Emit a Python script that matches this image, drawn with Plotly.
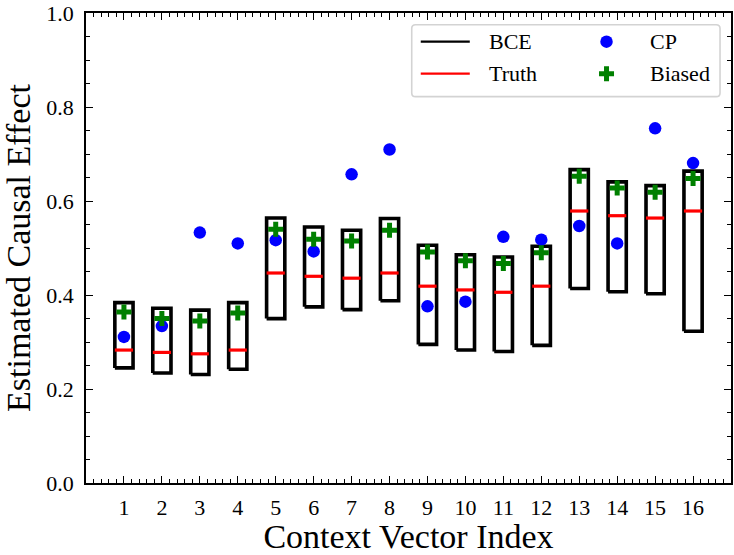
import plotly.graph_objects as go

# ---------------- data ----------------
idx = list(range(1, 17))
bce_low = [0.245, 0.234, 0.231, 0.242, 0.350, 0.375, 0.369, 0.388,
           0.295, 0.283, 0.280, 0.293, 0.414, 0.407, 0.403, 0.323]
bce_high = [0.384, 0.372, 0.368, 0.384, 0.564, 0.545, 0.538, 0.563,
            0.506, 0.486, 0.481, 0.504, 0.667, 0.641, 0.633, 0.664]
truth = [0.283, 0.278, 0.275, 0.283, 0.447, 0.440, 0.436, 0.447,
         0.419, 0.411, 0.406, 0.419, 0.579, 0.569, 0.564, 0.579]
cp = [0.311, 0.334, 0.533, 0.510, 0.517, 0.493, 0.657, 0.710,
      0.376, 0.386, 0.524, 0.518, 0.547, 0.510, 0.755, 0.681]
biased = [0.364, 0.350, 0.345, 0.362, 0.540, 0.519, 0.515, 0.538,
          0.492, 0.473, 0.467, 0.490, 0.653, 0.628, 0.619, 0.648]
tick_labels = [str(i) for i in idx]
y_ticks = [0.0, 0.2, 0.4, 0.6, 0.8, 1.0]
y_tick_labels = ["0.0", "0.2", "0.4", "0.6", "0.8", "1.0"]

FONT = "Liberation Serif, Times New Roman, serif"
HW = 0.24  # half width of the boxes (x units)

fig = go.Figure()

# BCE boxes
bx, by = [], []
for i, lo, hi in zip(idx, bce_low, bce_high):
    bx += [i - HW, i + HW, i + HW, i - HW, i - HW, None]
    by += [lo, lo, hi, hi, lo, None]
fig.add_trace(go.Scatter(x=bx, y=by, mode="lines", name="BCE",
                         line=dict(color="black", width=3.6),
                         showlegend=False, hoverinfo="skip"))

# Truth lines
tx, ty = [], []
for i, t in zip(idx, truth):
    tx += [i - HW, i + HW, None]
    ty += [t, t, None]
fig.add_trace(go.Scatter(x=tx, y=ty, mode="lines", name="Truth",
                         line=dict(color="red", width=3.2),
                         showlegend=False))

fig.add_trace(go.Scatter(x=idx, y=cp, mode="markers", name="CP",
                         marker=dict(symbol="circle", size=12.5, color="blue"),
                         showlegend=False))
fig.add_trace(go.Scatter(x=idx, y=biased, mode="markers", name="Biased",
                         marker=dict(symbol="cross", size=12.5, color="green"),
                         showlegend=False))

# ---------------- manual legend (paper coords over overlay axis) ----------------
lx0, lx1, ly0, ly1 = 0.505, 0.983, 0.822, 0.975
rx, ry = 0.006, 0.008
path = (f"M {lx0+rx},{ly0} L {lx1-rx},{ly0} Q {lx1},{ly0} {lx1},{ly0+ry} "
        f"L {lx1},{ly1-ry} Q {lx1},{ly1} {lx1-rx},{ly1} "
        f"L {lx0+rx},{ly1} Q {lx0},{ly1} {lx0},{ly1-ry} "
        f"L {lx0},{ly0+ry} Q {lx0},{ly0} {lx0+rx},{ly0} Z")
fig.add_shape(type="path", path=path, xref="paper", yref="paper",
              line=dict(color="#d3d3d3", width=1.6), fillcolor="white", layer="below")
row1, row2 = 0.939, 0.871
fig.add_shape(type="line", xref="paper", yref="paper", x0=0.519, x1=0.595, y0=row1, y1=row1,
              line=dict(color="black", width=2.2))
fig.add_shape(type="line", xref="paper", yref="paper", x0=0.519, x1=0.595, y0=row2, y1=row2,
              line=dict(color="red", width=2.2))
fig.add_trace(go.Scatter(x=[0.807], y=[row1], mode="markers", xaxis="x2", yaxis="y2",
                         marker=dict(symbol="circle", size=12.5, color="blue"),
                         showlegend=False, hoverinfo="skip"))
fig.add_trace(go.Scatter(x=[0.807], y=[row2], mode="markers", xaxis="x2", yaxis="y2",
                         marker=dict(symbol="cross", size=12.5, color="green"),
                         showlegend=False, hoverinfo="skip"))
for txt, x, y in [("BCE", 0.621, row1), ("Truth", 0.621, row2),
                  ("CP", 0.872, row1), ("Biased", 0.872, row2)]:
    fig.add_annotation(text=txt, x=x, y=y, xref="paper", yref="paper",
                       xanchor="left", yanchor="middle", showarrow=False,
                       font=dict(family=FONT, size=22, color="black"))

axis_common = dict(showline=True, linecolor="black", linewidth=1.5, mirror="allticks",
                   ticks="inside", ticklen=7, tickwidth=1.2, tickcolor="black",
                   showgrid=False, zeroline=False, ticklabeloverflow="allow",
                   tickfont=dict(family=FONT, size=22, color="black"))

fig.update_layout(
    width=734, height=555,
    margin=dict(l=86, r=1, t=10, b=72),
    paper_bgcolor="white", plot_bgcolor="white",
    showlegend=False,
    xaxis=dict(range=[0, 17], tickmode="array", tickvals=idx, ticktext=tick_labels,
               minor=dict(ticks="inside", ticklen=4, tickwidth=1, tickcolor="black",
                          dtick=0.2, tick0=0),
               title=dict(text="Context Vector Index", standoff=10,
                          font=dict(family=FONT, size=34, color="black")),
               ticklabelstandoff=4,
               **axis_common),
    yaxis=dict(range=[0, 1.0005], tickmode="array", tickvals=y_ticks, ticktext=y_tick_labels,
               minor=dict(ticks="inside", ticklen=4, tickwidth=1, tickcolor="black",
                          dtick=0.05, tick0=0),
               title=dict(text="Estimated Causal Effect", standoff=9,
                          font=dict(family=FONT, size=34, color="black")),
               ticklabelstandoff=6,
               **axis_common),
    xaxis2=dict(range=[0, 1], overlaying="x", visible=False, fixedrange=True),
    yaxis2=dict(range=[0, 1], overlaying="y", visible=False, fixedrange=True),
)

fig.write_html("out.html")
